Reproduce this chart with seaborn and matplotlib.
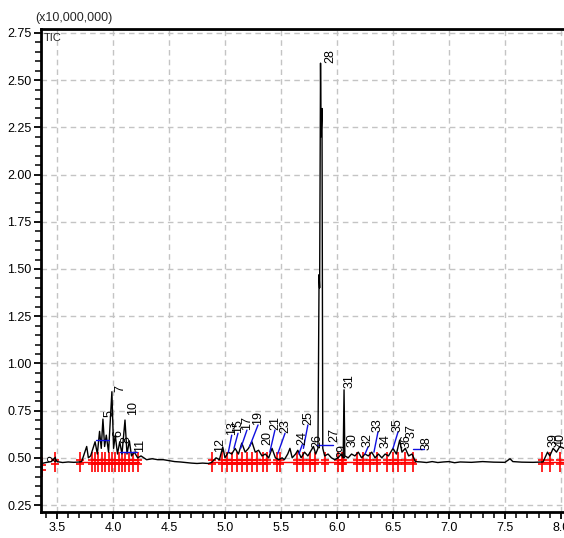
import matplotlib
matplotlib.use("Agg")
import matplotlib.pyplot as plt
import seaborn as sns
import numpy as np
import pandas as pd
from matplotlib.ticker import MultipleLocator

# ---------------- data ----------------
trace_time = [3.357, 3.365, 3.40, 3.45, 3.48, 3.50, 3.55, 3.60, 3.65, 3.70, 3.72,
              3.765, 3.78, 3.80, 3.84, 3.86, 3.88, 3.895, 3.91, 3.925, 3.94, 3.96,
              3.99, 4.005, 4.02, 4.04, 4.06, 4.08, 4.107, 4.125, 4.146, 4.165, 4.19,
              4.22, 4.25, 4.30, 4.35, 4.40, 4.45, 4.50, 4.55, 4.60, 4.65, 4.70, 4.75,
              4.80, 4.85, 4.88, 4.92, 4.95, 4.98, 5.00, 5.03, 5.06, 5.09, 5.12, 5.15,
              5.18, 5.21, 5.24, 5.27, 5.30, 5.33, 5.36, 5.39, 5.42, 5.45, 5.48, 5.51,
              5.53, 5.56, 5.58, 5.60, 5.63, 5.65, 5.68, 5.71, 5.74, 5.77, 5.79, 5.81,
              5.83, 5.84, 5.845, 5.853, 5.858, 5.866, 5.873, 5.89, 5.92, 5.95, 5.98,
              6.01, 6.04, 6.055, 6.063, 6.07, 6.10, 6.13, 6.16, 6.19, 6.22, 6.25, 6.28,
              6.31, 6.34, 6.37, 6.40, 6.43, 6.46, 6.50, 6.53, 6.56, 6.58, 6.61, 6.64,
              6.67, 6.70, 6.75, 6.80, 6.85, 6.90, 6.95, 7.00, 7.05, 7.10, 7.20, 7.30,
              7.40, 7.50, 7.545, 7.57, 7.65, 7.75, 7.84, 7.88, 7.90, 7.93, 7.96, 7.99, 8.027]
trace_int = [0.42, 0.47, 0.475, 0.48, 0.50, 0.48, 0.475, 0.478, 0.476, 0.478, 0.48,
             0.56, 0.50, 0.51, 0.585, 0.52, 0.64, 0.55, 0.705, 0.56, 0.62, 0.53,
             0.85, 0.55, 0.62, 0.52, 0.585, 0.52, 0.70, 0.52, 0.59, 0.51, 0.53,
             0.50, 0.51, 0.49, 0.495, 0.49, 0.49, 0.485, 0.48, 0.478, 0.475, 0.472, 0.47,
             0.472, 0.47, 0.475, 0.50, 0.49, 0.557, 0.50, 0.53, 0.52, 0.55, 0.52, 0.578,
             0.53, 0.55, 0.585, 0.53, 0.54, 0.51, 0.52, 0.50, 0.55, 0.50, 0.49, 0.50,
             0.49, 0.52, 0.55, 0.50, 0.52, 0.54, 0.50, 0.53, 0.51, 0.54, 0.56, 0.52,
             0.55, 1.47, 1.40, 2.59, 2.20, 2.35, 0.55, 0.51, 0.52, 0.50, 0.49,
             0.50, 0.52, 0.50, 0.86, 0.51, 0.50, 0.52, 0.51, 0.53, 0.50, 0.52, 0.51,
             0.53, 0.50, 0.52, 0.50, 0.52, 0.51, 0.55, 0.52, 0.594, 0.53, 0.55, 0.51,
             0.52, 0.48, 0.478, 0.475, 0.48, 0.475, 0.478, 0.48, 0.474, 0.478, 0.476, 0.48,
             0.477, 0.476, 0.495, 0.48, 0.477, 0.476, 0.478, 0.53, 0.51, 0.55, 0.53, 0.56, 0.55]

# peak-boundary markers (red)
boundary_time = [3.37, 3.48, 3.705, 3.81, 3.84, 3.87, 3.90, 3.93, 3.96, 3.99, 4.02,
                 4.05, 4.08, 4.11, 4.14, 4.18, 4.22,
                 4.881, 4.970, 5.015, 5.060, 5.104, 5.149, 5.194, 5.238, 5.283, 5.342,
                 5.372, 5.462, 5.491, 5.640, 5.699, 5.759, 5.804, 5.893, 6.012, 6.042,
                 6.056, 6.176, 6.235, 6.295, 6.354, 6.444, 6.503, 6.545, 6.607, 6.679,
                 7.828, 7.902, 7.991]
boundary_int = [0.45] + [0.478] * 49

# peak labels
label_text = ["2", "5", "6", "7", "8", "10", "11",
              "12", "13", "15", "17", "19", "20", "21", "23", "24", "25", "26", "27", "28",
              "29", "30", "31", "32", "33", "34", "35", "36", "37", "38", "39", "40"]
label_time = [3.47, 3.973, 4.05, 4.063, 4.12, 4.18, 4.24,
              4.955, 5.06, 5.116, 5.196, 5.295, 5.38, 5.446, 5.536, 5.69, 5.74, 5.82, 5.98, 5.94,
              6.045, 6.14, 6.116, 6.277, 6.366, 6.43, 6.545, 6.625, 6.67, 6.80, 7.93, 8.00]
label_int = [0.478, 0.716, 0.61, 0.849, 0.58, 0.727, 0.53,
             0.53, 0.62, 0.63, 0.647, 0.674, 0.57, 0.647, 0.63, 0.57, 0.674, 0.55, 0.583, 2.59,
             0.50, 0.557, 0.87, 0.557, 0.637, 0.55, 0.637, 0.55, 0.605, 0.54, 0.557, 0.557]

# blue leader segments
blue_t0 = [3.85, 4.06, 5.03, 5.08, 5.14, 5.22, 5.40, 5.47, 5.66, 5.70, 5.82, 6.25, 6.33, 6.50, 6.68]
blue_v0 = [0.594, 0.53, 0.53, 0.55, 0.55, 0.56, 0.53, 0.52, 0.52, 0.55, 0.568, 0.52, 0.53, 0.55, 0.545]
blue_t1 = [3.96, 4.21, 5.06, 5.116, 5.196, 5.295, 5.446, 5.536, 5.69, 5.74, 5.96, 6.277, 6.366, 6.545, 6.78]
blue_v1 = [0.594, 0.53, 0.62, 0.63, 0.647, 0.674, 0.647, 0.63, 0.57, 0.674, 0.568, 0.557, 0.637, 0.637, 0.545]

x_ticks = [3.5, 4.0, 4.5, 5.0, 5.5, 6.0, 6.5, 7.0, 7.5, 8.0]
y_ticks = [0.25, 0.50, 0.75, 1.00, 1.25, 1.50, 1.75, 2.00, 2.25, 2.50, 2.75]

# ---------------- plotting ----------------
sns.set_style("white")
plt.rcParams['font.family'] = ['Liberation Sans', 'DejaVu Sans']

fig = plt.figure(figsize=(5.64, 5.38), dpi=100)
ax = fig.add_axes([41 / 564, 1 - 512 / 538, 523 / 564, 483 / 538])

df = pd.DataFrame({"time": trace_time, "intensity": trace_int})

# red baseline lines + boundary markers
bt = np.array(boundary_time)
bv = np.array(boundary_int)
for lo, hi in [(3.70, 4.23), (4.88, 6.70), (7.82, 8.03)]:
    ax.plot([lo, hi], [0.478, 0.478], color="red", lw=1, zorder=2)
ax.plot(bt, bv, ls="none", marker="|", ms=15, mew=1.2, color="red", zorder=2)
ax.plot(bt, bv - 0.012, ls="none", marker="_", ms=6, mew=1.2, color="red", zorder=2)
ax.plot(bt, bv + 0.012, ls="none", marker="_", ms=6, mew=1.2, color="red", zorder=2)

sns.lineplot(data=df, x="time", y="intensity", estimator=None, sort=False,
             color="black", lw=1.0, ax=ax, zorder=3)

for t0, v0, t1, v1 in zip(blue_t0, blue_v0, blue_t1, blue_v1):
    ax.plot([t0, t1], [v0, v1], color="#1010e0", lw=1, zorder=4)

for txt, t, v in zip(label_text, label_time, label_int):
    ax.text(t, v, txt, rotation=90, ha="center", va="bottom", fontsize=9,
            color="black", zorder=5, clip_on=False)

ax.set_xlim(3.357, 8.027)
ax.set_ylim(0.213, 2.771)
ax.set_xticks(x_ticks)
ax.set_xticklabels([f"{v:.1f}" for v in x_ticks])
ax.set_yticks(y_ticks)
ax.set_yticklabels([f"{v:.2f}" for v in y_ticks])
ax.xaxis.set_minor_locator(MultipleLocator(0.1))
ax.yaxis.set_minor_locator(MultipleLocator(0.05))
ax.tick_params(axis="both", which="major", direction="out", length=5, width=1.3,
               labelsize=9, colors="black", pad=2)
ax.tick_params(axis="both", which="minor", direction="out", length=4, width=1.3)
ax.tick_params(bottom=True, left=True, which="both")
ax.grid(True, which="major", color="#c4c4c4", ls=(0, (4, 3)), lw=1)
ax.set_xlabel("")
ax.set_ylabel("")

for s in ["left", "bottom", "top"]:
    ax.spines[s].set_color("black")
    ax.spines[s].set_linewidth(2)
ax.spines["right"].set_visible(False)

fig.text(35 / 564, 1 - 18 / 538, "(x10,000,000)", fontsize=9, ha="left", va="center")
fig.text(44 / 564, 1 - 38 / 538, "TIC", fontsize=8, ha="left", va="center")

fig.savefig("out.png", dpi=100)
